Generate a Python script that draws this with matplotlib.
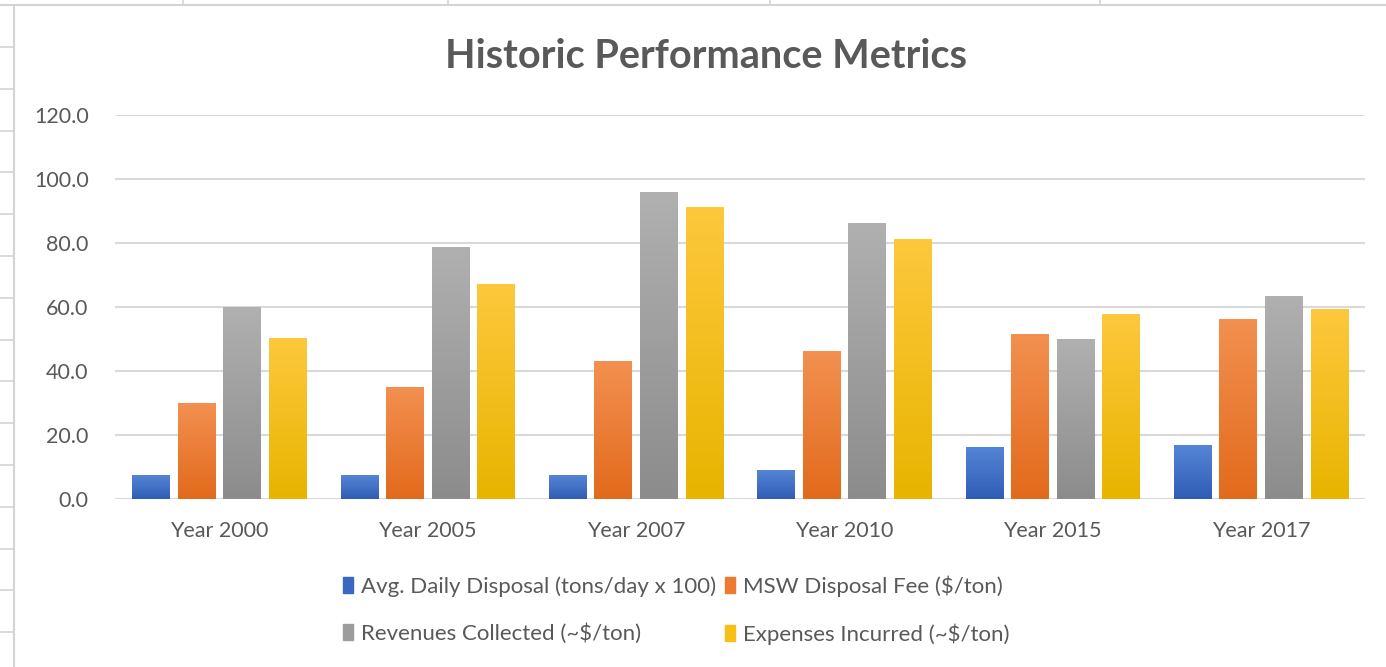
import numpy as np
import matplotlib
matplotlib.use('Agg')
import matplotlib.pyplot as plt
from matplotlib.colors import LinearSegmentedColormap
from matplotlib.patches import Patch

plt.rcParams['font.family'] = ['Lato', 'DejaVu Sans']

years = ['Year 2000', 'Year 2005', 'Year 2007', 'Year 2010', 'Year 2015', 'Year 2017']
series_names = ['Avg. Daily Disposal (tons/day x 100)', 'MSW Disposal Fee ($/ton)',
                'Revenues Collected (~$/ton)', 'Expenses Incurred (~$/ton)']
avg_disposal = [7.2, 7.2, 7.2, 9.0, 16.2, 16.8]
msw_fee = [30.0, 35.0, 43.0, 46.0, 51.5, 56.0]
revenues = [60.0, 78.7, 95.7, 86.0, 50.0, 63.2]
expenses = [50.2, 67.0, 91.0, 81.0, 57.8, 59.3]

# light top -> darker bottom, like the excel gradient fill
grads = [('#5585d6', '#2f5db5'), ('#f39050', '#e26a1c'),
         ('#b0b0b0', '#8c8c8c'), ('#fdc83c', '#e8b400')]
legend_cols = ['#3a67c0', '#ec7a30', '#9c9c9c', '#f7bf18']

fig = plt.figure(figsize=(13.86, 6.67), dpi=100)
ax = fig.add_axes([115 / 1386, 1 - 499 / 667, 1250 / 1386, 384 / 667])

# spreadsheet grid remnants around the chart
grey = '#d4d4d4'
fig.add_artist(plt.Line2D([0, 1], [1 - 5 / 667] * 2, color=grey, lw=1.5, transform=fig.transFigure))
fig.add_artist(plt.Line2D([14 / 1386] * 2, [0, 1 - 5 / 667], color=grey, lw=1.5, transform=fig.transFigure))
for xp in [183, 448, 770, 1100]:
    fig.add_artist(plt.Line2D([xp / 1386] * 2, [1 - 5 / 667, 1], color=grey, lw=1.2, transform=fig.transFigure))
for yp in np.arange(47, 667, 41.8):
    fig.add_artist(plt.Line2D([0, 14 / 1386], [1 - yp / 667] * 2, color=grey, lw=1.2, transform=fig.transFigure))

all_vals = [avg_disposal, msw_fee, revenues, expenses]
x = np.arange(len(years))
slot = 0.219
width = 0.178
for i, vals in enumerate(all_vals):
    cmap = LinearSegmentedColormap.from_list('g%d' % i, [grads[i][1], grads[i][0]])
    offs = (i - 1.5) * slot
    bars = ax.bar(x + offs, vals, width, color='none', edgecolor='none', zorder=3)
    grad = np.linspace(0, 1, 128).reshape(-1, 1)
    for b in bars:
        x0, y0 = b.get_x(), b.get_y()
        ax.imshow(grad, cmap=cmap, origin='lower', aspect='auto',
                  extent=(x0, x0 + b.get_width(), y0, y0 + b.get_height()), zorder=3)

ax.set_xlim(-0.5, len(years) - 0.5)
ax.set_ylim(0, 120)
ax.set_yticks(np.arange(0, 121, 20))
ax.set_yticklabels([f'{v:.1f}' for v in np.arange(0, 121, 20)])
ax.set_xticks(x)
ax.set_xticklabels(years)
ax.yaxis.grid(True, color='#d9d9d9', lw=1.5, zorder=0)
ax.set_axisbelow(True)
for s in ax.spines.values():
    s.set_visible(False)
ax.tick_params(axis='both', length=0, colors='#595959', labelsize=15.5)
ax.tick_params(axis='x', pad=16)
ax.tick_params(axis='y', pad=19)

fig.text(706 / 1386, 1 - 56 / 667, 'Historic Performance Metrics', ha='center', va='center',
         fontsize=28.5, fontweight='bold', color='#595959')

handles = [Patch(color=c) for c in legend_cols]
order = [0, 2, 1, 3]
fig.legend([handles[k] for k in order], [series_names[k] for k in order],
           loc='center', bbox_to_anchor=(676 / 1386, 1 - 610 / 667), ncol=2, frameon=False,
           fontsize=16, handlelength=0.45, handleheight=0.7, handletextpad=0.35,
           columnspacing=0.4, labelspacing=1.2, labelcolor='#595959')

fig.savefig('out.png', dpi=100)
